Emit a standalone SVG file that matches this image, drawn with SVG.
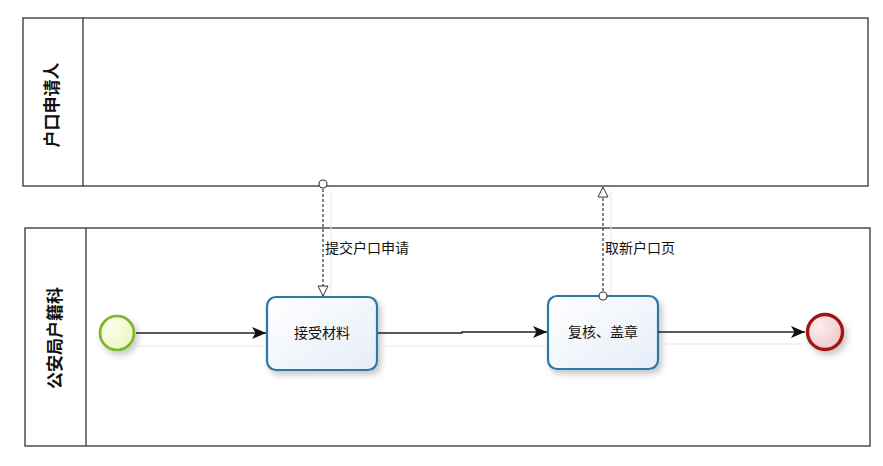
<svg xmlns="http://www.w3.org/2000/svg" width="883" height="466" viewBox="0 0 883 466">
<style>
.pool{fill:#fff;stroke:#333;stroke-width:1.3}
.lbl{font-family:"Liberation Sans","Noto Sans CJK SC",sans-serif;fill:#111}
.pl{font-size:17px;font-weight:bold}
.tk{font-size:14px}
.ml{font-size:14px}
.task{fill:url(#tg);stroke:#2a7aa6;stroke-width:2.2}
.flow{stroke:#222;stroke-width:1.3;fill:none}
.msg{stroke:#333;stroke-width:1.2;fill:none;stroke-dasharray:3 2}
.shadow{stroke:#e6e6e6;stroke-width:1}
</style>
<defs>
<linearGradient id="tg" x1="0" y1="0" x2="1" y2="1"><stop offset="0" stop-color="#ffffff"/><stop offset="1" stop-color="#e6edf8"/></linearGradient>
<radialGradient id="sg" cx="0.35" cy="0.35" r="0.8"><stop offset="0" stop-color="#fbfde9"/><stop offset="1" stop-color="#eaf5c2"/></radialGradient>
<radialGradient id="eg" cx="0.35" cy="0.35" r="0.8"><stop offset="0" stop-color="#fbeeee"/><stop offset="1" stop-color="#efc4c4"/></radialGradient>
<filter id="ds" x="-30%" y="-30%" width="170%" height="170%"><feDropShadow dx="3" dy="4" stdDeviation="3" flood-color="#000" flood-opacity="0.22"/></filter>
<marker id="fa" viewBox="0 0 14 12" refX="14" refY="6" markerWidth="14" markerHeight="12" markerUnits="userSpaceOnUse" orient="auto"><path d="M0,0 L14,6 L0,12 L3.5,6 Z" fill="#111"/></marker>
<marker id="oa" viewBox="0 0 12 12" refX="11" refY="6" markerWidth="12" markerHeight="12" markerUnits="userSpaceOnUse" orient="auto"><path d="M1,1 L11,6 L1,11 Z" fill="#fff" stroke="#333" stroke-width="1"/></marker>
<marker id="oc" viewBox="0 0 10 10" refX="5" refY="5" markerWidth="10" markerHeight="10" markerUnits="userSpaceOnUse" orient="auto"><circle cx="5" cy="5" r="4" fill="#fff" stroke="#333" stroke-width="1.1"/></marker>
</defs>
<g id="pool-applicant">
<rect class="pool" x="23" y="18" width="845" height="168"/>
<line x1="83" y1="18" x2="83" y2="186" stroke="#333" stroke-width="1.3"/>
<text class="lbl pl" transform="translate(58,105) rotate(-90)" text-anchor="middle">户口申请人</text>
</g>
<g id="pool-police">
<rect class="pool" x="25" y="228" width="845" height="218"/>
<line x1="86" y1="228" x2="86" y2="446" stroke="#333" stroke-width="1.3"/>
<text class="lbl pl" transform="translate(61,338) rotate(-90)" text-anchor="middle">公安局户籍科</text>
</g>
<g id="start">
<circle cx="117" cy="333" r="17" fill="url(#sg)" stroke="#7ab52c" stroke-width="2.6" filter="url(#ds)"/>
</g>
<g id="task-receive">
<rect class="task" x="267" y="297" width="110" height="73" rx="9" filter="url(#ds)"/>
<text class="lbl tk" x="322" y="338" text-anchor="middle">接受材料</text>
</g>
<g id="task-review">
<rect class="task" x="548" y="296" width="110" height="73" rx="9" filter="url(#ds)"/>
<text class="lbl tk" x="603" y="337" text-anchor="middle">复核、盖章</text>
</g>
<g id="end">
<circle cx="825" cy="332" r="17.5" fill="url(#eg)" stroke="#a01616" stroke-width="3.4" filter="url(#ds)"/>
</g>
<g id="connectors">
<line class="shadow" x1="138" y1="346" x2="264" y2="346"/>
<line class="shadow" x1="380" y1="346" x2="545" y2="346"/>
<line class="shadow" x1="660" y1="344" x2="803" y2="344"/>
<line class="shadow" x1="331" y1="190" x2="331" y2="294"/>
<line class="shadow" x1="611" y1="190" x2="611" y2="294"/>
<path class="flow" d="M136,333 L266,333" marker-end="url(#fa)"/>
<path class="flow" d="M378,333 L462,333 L462,332 L547,332" marker-end="url(#fa)"/>
<path class="flow" d="M658,332 L805,332" marker-end="url(#fa)"/>
<path class="msg" d="M323,184 L323,296" marker-start="url(#oc)" marker-end="url(#oa)"/>
<path class="msg" d="M603,296 L603,187" marker-start="url(#oc)" marker-end="url(#oa)"/>
<text class="lbl ml" x="325" y="253">提交户口申请</text>
<text class="lbl ml" x="605" y="253">取新户口页</text>
</g>
</svg>
